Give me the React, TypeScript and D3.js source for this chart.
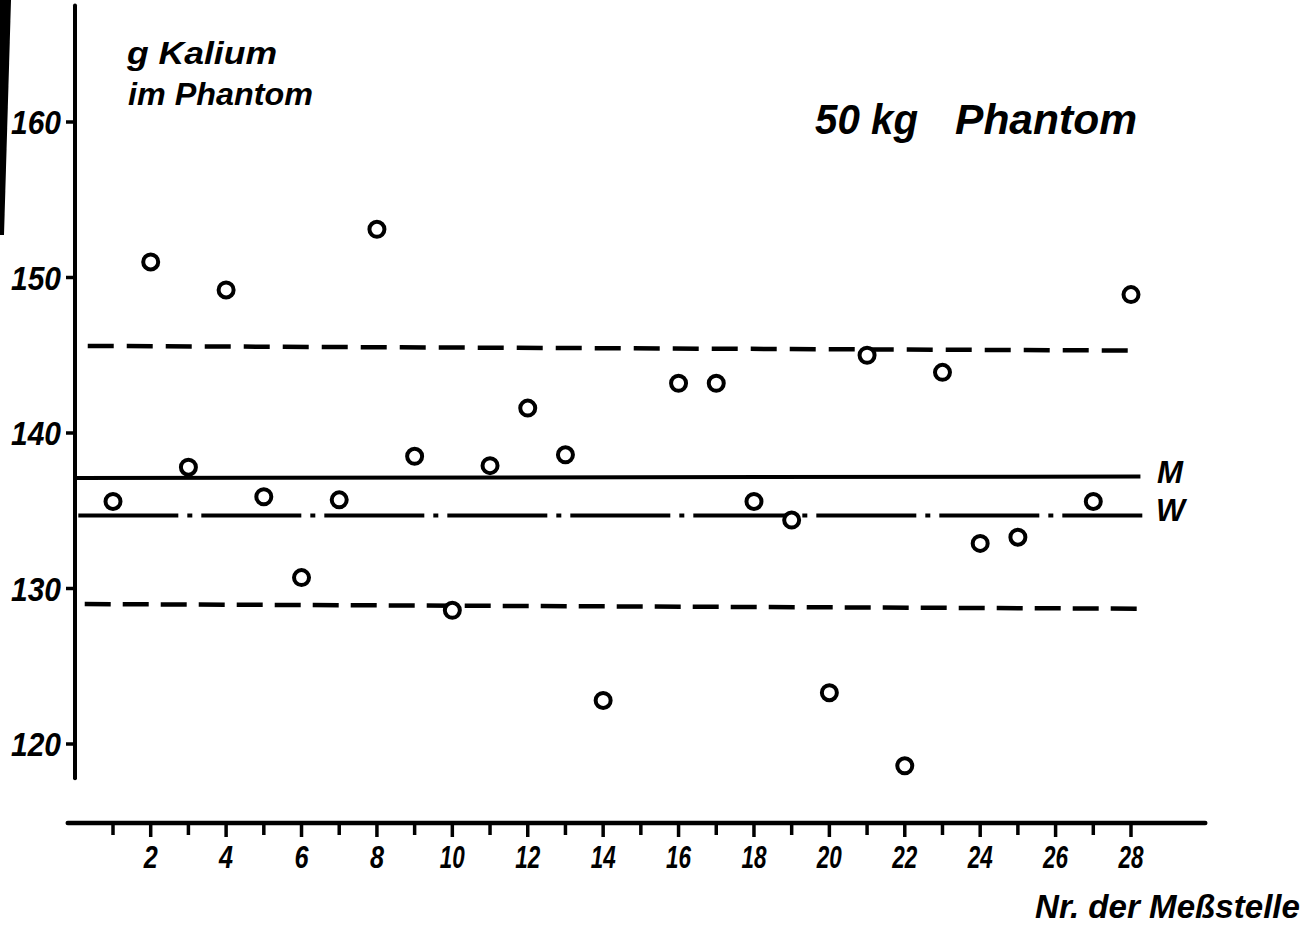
import React from "react";
import * as d3 from "d3";

// Measurement station numbers and measured potassium (g) in the 50 kg phantom
const stations = [1, 2, 3, 4, 5, 6, 7, 8, 9, 10, 11, 12, 13, 14, 16, 17, 18, 19, 20, 21, 22, 23, 24, 25, 27, 28];
const kalium = [135.6, 151.0, 137.8, 149.2, 135.9, 130.7, 135.7, 153.1, 138.5, 128.6, 137.9, 141.6, 138.6, 122.8, 143.2, 143.2, 135.6, 134.4, 123.3, 145.0, 118.6, 143.9, 132.9, 133.3, 135.6, 148.9];

// Reference lines: [value at left end, value at right end]
const upperLimit = [145.6, 145.3];
const meanM = [137.1, 137.2];
const trueW = [134.7, 134.7];
const lowerLimit = [129.0, 128.7];

const yTicks = [120, 130, 140, 150, 160];
const xTicks = d3.range(1, 29);
const xLabels = [2, 4, 6, 8, 10, 12, 14, 16, 18, 20, 22, 24, 26, 28];

const FONT = "'Liberation Sans', Arial, sans-serif";

export default function App() {
  const x = d3.scaleLinear().domain([1, 28]).range([113, 1131]);
  const y = d3.scaleLinear().domain([120, 160]).range([744, 122]);

  const axisX = x(1) - 38; // y-axis position
  const axisY = 823; // x-axis position

  const refLine = (vals: number[], x0: number, x1: number) =>
    d3.line<[number, number]>()
      .x((d) => x(d[0]))
      .y((d) => y(d[1]))([
      [x0, vals[0]],
      [x1, vals[1]],
    ]) as string;

  const textStyle: React.CSSProperties = {
    fontFamily: FONT,
    fontStyle: "italic",
    fontWeight: "bold",
    fill: "#000",
  };

  return (
    <svg
      width={1310}
      height={929}
      style={{ position: "absolute", left: 0, top: 0, background: "#fff" }}
    >
      <rect x={0} y={0} width={1310} height={929} fill="#fff" />
      {/* scan shadow at left edge */}
      <polygon points="0,0 11,0 4,235 0,235" fill="#000" />

      {/* y axis */}
      <line x1={axisX} x2={axisX} y1={y(167.5)} y2={y(117.8)} stroke="#000" strokeWidth={4} strokeLinecap="round" />
      {yTicks.map((t) => (
        <g key={t}>
          <line x1={axisX - 9} x2={axisX} y1={y(t)} y2={y(t)} stroke="#000" strokeWidth={3.5} />
          <text x={61} y={y(t) + 12} textAnchor="end" fontSize={33} style={textStyle} textLength={50} lengthAdjust="spacingAndGlyphs">
            {t}
          </text>
        </g>
      ))}

      {/* x axis */}
      <line x1={x(-0.2)} x2={x(29.97)} y1={axisY} y2={axisY} stroke="#000" strokeWidth={4.5} strokeLinecap="round" />
      {xTicks.map((t) => (
        <line key={t} x1={x(t)} x2={x(t)} y1={axisY} y2={axisY + (t % 2 === 0 ? 14 : 12)} stroke="#000" strokeWidth={3.5} />
      ))}
      {xLabels.map((t) => (
        <text
          key={t}
          x={x(t)}
          y={axisY + 45}
          textAnchor="middle"
          fontSize={32}
          style={textStyle}
          textLength={t < 10 ? 14 : 25}
          lengthAdjust="spacingAndGlyphs"
        >
          {t}
        </text>
      ))}

      {/* reference lines */}
      <path d={refLine(upperLimit, 0.33, 28.25)} stroke="#000" strokeWidth={4.5} strokeDasharray="26 13" fill="none" />
      <path d={refLine(meanM, -0.0, 28.25)} stroke="#000" strokeWidth={4} fill="none" />
      <path d={refLine(trueW, 0.08, 28.3)} stroke="#000" strokeWidth={4} strokeDasharray="100 9 5 9" fill="none" />
      <path d={refLine(lowerLimit, 0.25, 28.25)} stroke="#000" strokeWidth={4.5} strokeDasharray="26 12" fill="none" />

      {/* data points */}
      {stations.map((s, i) => (
        <circle key={s} cx={x(s)} cy={y(kalium[i])} r={7.5} fill="#fff" stroke="#000" strokeWidth={4} />
      ))}

      {/* labels */}
      <text x={1157} y={483} fontSize={32} style={textStyle} textLength={26} lengthAdjust="spacingAndGlyphs">M</text>
      <text x={1156} y={521} fontSize={32} style={textStyle} textLength={29} lengthAdjust="spacingAndGlyphs">W</text>

      <text x={127} y={64} fontSize={32} style={textStyle} textLength={150} lengthAdjust="spacingAndGlyphs">g Kalium</text>
      <text x={128} y={105} fontSize={32} style={textStyle} textLength={185} lengthAdjust="spacingAndGlyphs">im Phantom</text>

      <text x={815} y={134} fontSize={43} style={textStyle} textLength={103} lengthAdjust="spacingAndGlyphs">50 kg</text>
      <text x={955} y={134} fontSize={43} style={textStyle} textLength={182} lengthAdjust="spacingAndGlyphs">Phantom</text>

      <text x={1035} y={918} fontSize={33} style={textStyle} textLength={265} lengthAdjust="spacingAndGlyphs">Nr. der Meßstelle</text>
    </svg>
  );
}
